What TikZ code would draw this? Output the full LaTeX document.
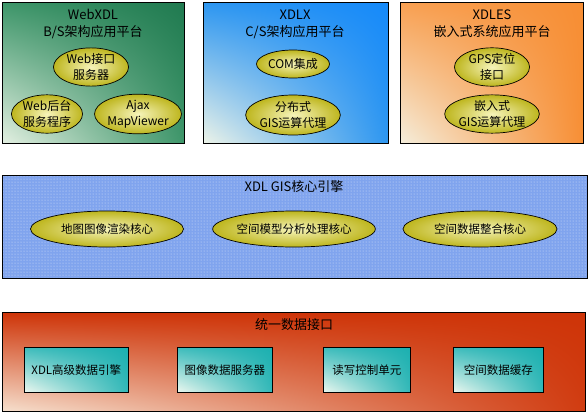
\documentclass[tikz,border=0pt]{standalone}
\usepackage{fontspec}
\setmainfont{Noto Sans CJK SC}
\usetikzlibrary{shapes.geometric, positioning, patterns, shadings}

\definecolor{bsdark}{RGB}{32,122,80}
\definecolor{bsmid}{RGB}{62,150,106}
\definecolor{bslight}{RGB}{228,240,226}
\definecolor{csdark}{RGB}{22,138,250}
\definecolor{csmid}{RGB}{45,150,240}
\definecolor{cslight}{RGB}{238,244,232}
\definecolor{esdark}{RGB}{247,142,52}
\definecolor{esmid}{RGB}{248,160,82}
\definecolor{eslight}{RGB}{245,238,220}
\definecolor{coreblue}{RGB}{128,164,238}
\definecolor{dbdark}{RGB}{206,52,8}
\definecolor{dbmid}{RGB}{222,106,70}
\definecolor{dblight}{RGB}{246,224,206}
\definecolor{tealdark}{RGB}{28,176,176}
\definecolor{teallight}{RGB}{238,248,240}
\definecolor{olive}{RGB}{190,182,30}
\definecolor{paleyellow}{RGB}{246,244,186}

\begin{document}
\begin{tikzpicture}[
  x=1pt, y=-1pt,
  every node/.style={font=\fontsize{11.5}{15}\selectfont},
  panel/.style={rectangle, draw=black, line width=0.8pt, anchor=north west, inner sep=0pt},
  title/.style={align=center, font=\fontsize{13}{17}\selectfont},
  blob/.style={ellipse, draw=black, line width=0.7pt, inner sep=0pt, align=center, shading=radial, inner color=paleyellow, outer color=olive},
  smallblob/.style={blob, font=\fontsize{12}{16}\selectfont},
  unit/.style={rectangle, draw=black, line width=0.7pt, anchor=north west, minimum height=45pt, inner sep=0pt, upper right=tealdark, upper left=tealdark!85!white, lower right=tealdark!90!white, lower left=teallight}
]
\useasboundingbox (0,0) rectangle (588,413);

% Application platforms
\node[panel, minimum width=182pt, minimum height=141pt, upper left=bsmid, upper right=bsdark, lower right=bsmid, lower left=bslight] (bs_box) at (2,2) {};
\node[title] (bs_title) at (93,24) {WebXDL\\B/S架构应用平台};
\node[smallblob, minimum width=75pt, minimum height=35pt] (webapi) at (91,67) {Web接口\\服务器};
\node[smallblob, minimum width=71pt, minimum height=38pt] (webback) at (47,114) {Web后台\\服务程序};
\node[smallblob, minimum width=77pt, minimum height=35pt] (ajax) at (138,114) {Ajax\\MapViewer};

\node[panel, minimum width=185pt, minimum height=141pt, upper left=csmid, upper right=csdark, lower right=csmid, lower left=cslight] (cs_box) at (203,2) {};
\node[title] (cs_title) at (295,24) {XDLX\\C/S架构应用平台};
\node[smallblob, minimum width=73pt, minimum height=28pt] (com) at (293,64) {COM集成};
\node[smallblob, minimum width=78pt, minimum height=40pt] (csagent) at (293,115) {分布式\\GIS运算代理};

\node[panel, minimum width=183pt, minimum height=141pt, upper left=esmid, upper right=esdark, lower right=esdark, lower left=eslight] (es_box) at (400,2) {};
\node[title] (es_title) at (492,24) {XDLES\\嵌入式系统应用平台};
\node[smallblob, minimum width=75pt, minimum height=35pt] (gps) at (492,67) {GPS定位\\接口};
\node[smallblob, minimum width=72pt, minimum height=38pt] (esagent) at (492,114) {嵌入式\\GIS运算代理};

% GIS core engine
\node[panel, minimum width=585pt, minimum height=103pt, fill=coreblue] (core_box) at (2,175) {};
\fill[pattern=dots, pattern color=white!70!coreblue] (core_box.north west) rectangle (core_box.south east);
\draw[line width=0.8pt] (core_box.north west) rectangle (core_box.south east);
\node[title] (core_title) at (294,187) {XDL GIS核心引擎};
\node[blob, minimum width=153pt, minimum height=36pt] (render) at (107,229) {地图图像渲染核心};
\node[blob, minimum width=153pt, minimum height=36pt] (model) at (294,229) {空间模型分析处理核心};
\node[blob, minimum width=154pt, minimum height=36pt] (merge) at (480,229) {空间数据整合核心};

% Unified data interface
\node[panel, minimum width=583pt, minimum height=99pt, upper left=dbdark, upper right=dbdark, lower right=dbdark!85!dbmid, lower left=dblight] (data_box) at (2,312) {};
\node[title] (data_title) at (294,325) {统一数据接口};
\node[unit, minimum width=104pt] (engine) at (24,347) {};
\node at (engine.center) {XDL高级数据引擎};
\node[unit, minimum width=95pt] (imgsrv) at (177,347) {};
\node at (imgsrv.center) {图像数据服务器};
\node[unit, minimum width=87pt] (rwctrl) at (323,347) {};
\node at (rwctrl.center) {读写控制单元};
\node[unit, minimum width=90pt] (cache) at (453,347) {};
\node at (cache.center) {空间数据缓存};

\end{tikzpicture}
\end{document}
